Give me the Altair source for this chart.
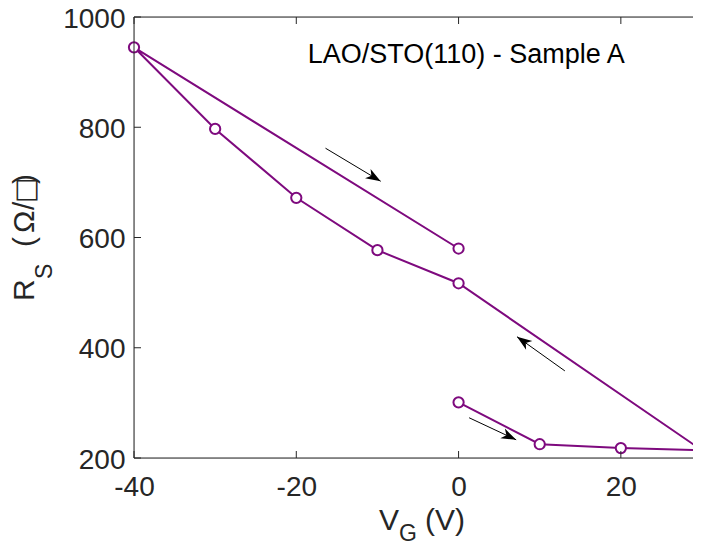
import math
import altair as alt
import pandas as pd

# ---- data ----
vg = [0, 10, 20, 30, 0, -10, -20, -30, -40, 0]
rs = [301, 225, 218, 214, 517, 577, 672, 797, 945, 580]

x_ticks = [-40, -20, 0, 20]
y_ticks = [200, 400, 600, 800, 1000]

arrow_x0 = [-16.4, 13.1, 1.3]
arrow_y0 = [762, 358, 273]
arrow_x1 = [-9.6, 7.2, 7.1]
arrow_y1 = [702, 420, 233]

annot_text = ["LAO/STO(110) - Sample A"]
annot_x = [-18.6]
annot_y = [917]

# ---- style ----
W, H = 559, 441          # visible plot area (page is narrower than the full axes box)
XR = 568                 # pixel length of the full x range (-40 .. 30)
XMIN, XMAX = -40, 30
YMIN, YMAX = 200, 1000
PURPLE = "#7E0A7E"
AXC = "#262626"
FONT = "Liberation Sans"
FS = 28
TFS = 30
SUB = 23

xs = alt.Scale(domain=[XMIN, XMAX], range=[0, XR], nice=False, zero=False)
ys = alt.Scale(domain=[YMIN, YMAX], nice=False, zero=False)

df = pd.DataFrame({"vg": vg, "rs": rs, "order": list(range(len(vg)))})

lab = "datum.value < 0 ? '-' + abs(datum.value) : '' + datum.value"

line = alt.Chart(df).mark_line(color=PURPLE, strokeWidth=2).encode(
    x=alt.X("vg:Q", scale=xs, axis=alt.Axis(values=x_ticks, title=None, labelFont=FONT,
                                            labelFontSize=FS, labelColor=AXC, tickSize=0,
                                            domain=False, grid=False, labelPadding=15,
                                            labelFlush=False, labelExpr=lab)),
    y=alt.Y("rs:Q", scale=ys, axis=alt.Axis(values=y_ticks, title=None, labelFont=FONT,
                                            labelFontSize=FS, labelColor=AXC, tickSize=0,
                                            domain=False, grid=False, labelPadding=9,
                                            labelOffset=2, labelFlush=False, labelExpr=lab)),
    order="order:O",
)

points = alt.Chart(df).mark_circle(size=105, fill="white", stroke=PURPLE, strokeWidth=2,
                                    opacity=1, fillOpacity=1).encode(
    x=alt.X("vg:Q", scale=xs), y=alt.Y("rs:Q", scale=ys))

# arrows
ang = []
for a, b, c, d in zip(arrow_x0, arrow_y0, arrow_x1, arrow_y1):
    dx = (c - a) * XR / (XMAX - XMIN)
    dy = -(d - b) * H / (YMAX - YMIN)
    ang.append(math.degrees(math.atan2(dy, dx)) % 360)
adf = pd.DataFrame({"x0": arrow_x0, "y0": arrow_y0, "x1": arrow_x1, "y1": arrow_y1, "ang": ang})

shafts = alt.Chart(adf).mark_rule(color="black", strokeWidth=1).encode(
    x=alt.X("x0:Q", scale=xs), y=alt.Y("y0:Q", scale=ys), x2="x1:Q", y2="y1:Q")
heads = alt.Chart(adf).mark_point(shape="M0,0 L-1,-0.36 L-0.72,0 L-1,0.36 Z", size=900,
                                  filled=True, color="black", opacity=1, strokeWidth=0).encode(
    x=alt.X("x1:Q", scale=xs), y=alt.Y("y1:Q", scale=ys), angle=alt.Angle("ang:Q", scale=None))

# annotation
ndf = pd.DataFrame({"t": annot_text, "x": annot_x, "y": annot_y})
note = alt.Chart(ndf).mark_text(font=FONT, fontSize=27, color="black", align="left",
                                baseline="alphabetic").encode(
    x=alt.X("x:Q", scale=xs), y=alt.Y("y:Q", scale=ys), text="t:N")

# axes box lines (left, bottom, top) and inward ticks
one = pd.DataFrame({"a": [0]})
box_l = alt.Chart(one).mark_rule(color=AXC, strokeWidth=1).encode(
    x=alt.value(0), y=alt.value(0), y2=alt.value(H))
box_b = alt.Chart(one).mark_rule(color=AXC, strokeWidth=1).encode(
    x=alt.value(0), x2=alt.value(W + 10), y=alt.value(H))
box_t = alt.Chart(one).mark_rule(color=AXC, strokeWidth=1).encode(
    x=alt.value(0), x2=alt.value(W + 10), y=alt.value(0))

xt = pd.DataFrame({"v": x_ticks})
yt = pd.DataFrame({"v": y_ticks})
tb = alt.Chart(xt).mark_rule(color=AXC, strokeWidth=1).encode(
    x=alt.X("v:Q", scale=xs), y=alt.value(H), y2=alt.value(H - 7))
tt = alt.Chart(xt).mark_rule(color=AXC, strokeWidth=1).encode(
    x=alt.X("v:Q", scale=xs), y=alt.value(0), y2=alt.value(7))
tl = alt.Chart(yt).mark_rule(color=AXC, strokeWidth=1).encode(
    y=alt.Y("v:Q", scale=ys), x=alt.value(0), x2=alt.value(7))
tr = alt.Chart(yt).mark_rule(color=AXC, strokeWidth=1).encode(
    y=alt.Y("v:Q", scale=ys), x=alt.value(XR), x2=alt.value(XR - 7))

# axis titles with subscripts
def txt(s, x, y, size, angle=0, font=FONT):
    return alt.Chart(one).mark_text(text=s, font=font, fontSize=size, color=AXC, align="left",
                                    baseline="alphabetic", angle=angle).encode(
        x=alt.value(x), y=alt.value(y))

xt1 = txt("V", 245, 513, TFS)
xt2 = txt("G", 265, 524, SUB)
xt3 = txt("(V)", 291, 513, TFS)
yt1 = txt("R", -100, 284, TFS, 270)
yt2 = txt("S", -82, 262, SUB, 270)
yt3 = txt("(", -100, 230, TFS, 270)
yt4 = txt("Ω", -100, 216, TFS, 270)
yt5 = txt("/", -100, 193, TFS, 270)
yt6 = txt("□", -100, 186, 27, 270, "DejaVu Sans")
yt7 = txt(")", -100, 167, TFS, 270)

chart = alt.layer(line, shafts, heads, points, note, box_l, box_b, box_t, tb, tt, tl, tr,
                  xt1, xt2, xt3, yt1, yt2, yt3, yt4, yt5, yt6, yt7).properties(
    width=W, height=H,
    autosize=alt.AutoSizeParams(type="none"),
    padding={"left": 126, "top": 9, "right": 0, "bottom": 86},
).configure_view(stroke=None).configure(background="white")

chart.save("out.html", embed_options={"renderer": "svg", "actions": False})
